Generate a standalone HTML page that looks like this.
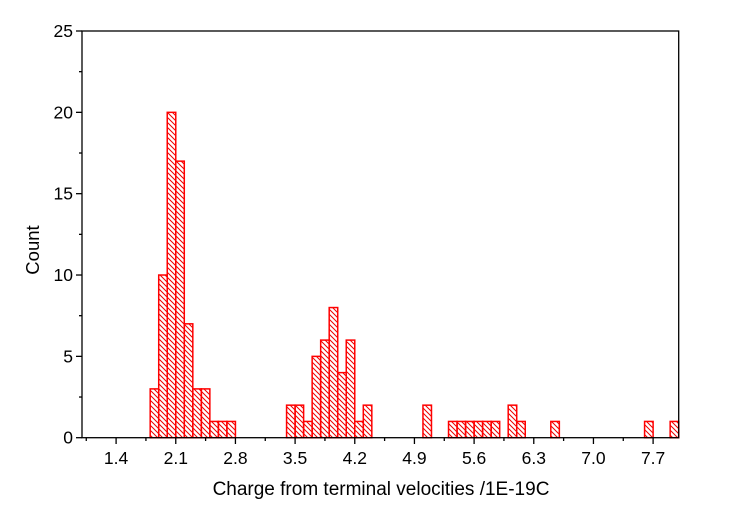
<!DOCTYPE html>
<html><head><meta charset="utf-8"><style>body{margin:0;background:#fff}svg{display:block}text{font-family:"Liberation Sans",Arial,sans-serif;fill:#000}</style></head>
<body>
<svg width="729" height="522" viewBox="0 0 729 522" xmlns="http://www.w3.org/2000/svg">
<defs>
<pattern id="h" patternUnits="userSpaceOnUse" width="5" height="5">
<path d="M-1,-1 L6,6 M-1,4 L1,6 M4,-1 L6,1" stroke="#e00" stroke-width="1"/>
</pattern>
</defs>
<g id="bars"></g>
<rect x="82" y="31" width="596.7" height="406.7" fill="none" stroke="#000" stroke-width="1.3"/>
<g id="ticks" stroke="#000" stroke-width="1.3"></g>
<g id="lab" font-size="17.5"></g>
<text x="39" y="250" font-size="18.5" text-anchor="middle" transform="rotate(-90 39 250)">Count</text>
<text x="381" y="495" font-size="19" text-anchor="middle">Charge from terminal velocities /1E-19C</text>
<script>
var ns="http://www.w3.org/2000/svg";
function X(v){return 82+(v-1)*85.24;}
function Y(v){return 437.7-v*16.268;}
var data=[[1.8,3],[1.9,10],[2.0,20],[2.1,17],[2.2,7],[2.3,3],[2.4,3],[2.5,1],[2.6,1],[2.7,1],
[3.4,2],[3.5,2],[3.6,1],[3.7,5],[3.8,6],[3.9,8],[4.0,4],[4.1,6],[4.2,1],[4.3,2],
[5.0,2],[5.3,1],[5.4,1],[5.5,1],[5.6,1],[5.7,1],[5.8,1],[6.0,2],[6.1,1],[6.5,1],[7.6,1],[7.9,1]];
var g=document.getElementById("bars");
data.forEach(function(d){var r=document.createElementNS(ns,"rect");var x0=X(d[0]),x1=X(d[0]+0.1);
r.setAttribute("x",x0);r.setAttribute("y",Y(d[1]));r.setAttribute("width",x1-x0);r.setAttribute("height",Y(0)-Y(d[1]));
r.setAttribute("fill","url(#h)");r.setAttribute("stroke","#f00");r.setAttribute("stroke-width","1.5");g.appendChild(r);});
var t=document.getElementById("ticks"),l=document.getElementById("lab");
function line(a,b,c,d){var e=document.createElementNS(ns,"line");e.setAttribute("x1",a);e.setAttribute("y1",b);e.setAttribute("x2",c);e.setAttribute("y2",d);t.appendChild(e);}
function txt(x,y,s,a){var e=document.createElementNS(ns,"text");e.setAttribute("x",x);e.setAttribute("y",y);e.setAttribute("text-anchor",a);e.textContent=s;l.appendChild(e);}
for(var i=0;i<=10;i++){var v=i*2.5,y=Y(v);if(i%2==0){line(76,y,82,y);txt(73,y+6,String(v),"end");}else line(79,y,82,y);}
for(var k=0;k<20;k++){var v=1.05+k*0.35;if(v>8.001)break;var x=X(v);if(k%2==1){line(x,437.7,x,444);txt(x,464,v.toFixed(1),"middle");}else line(x,437.7,x,441);}
</script>
</svg>
</body></html>
